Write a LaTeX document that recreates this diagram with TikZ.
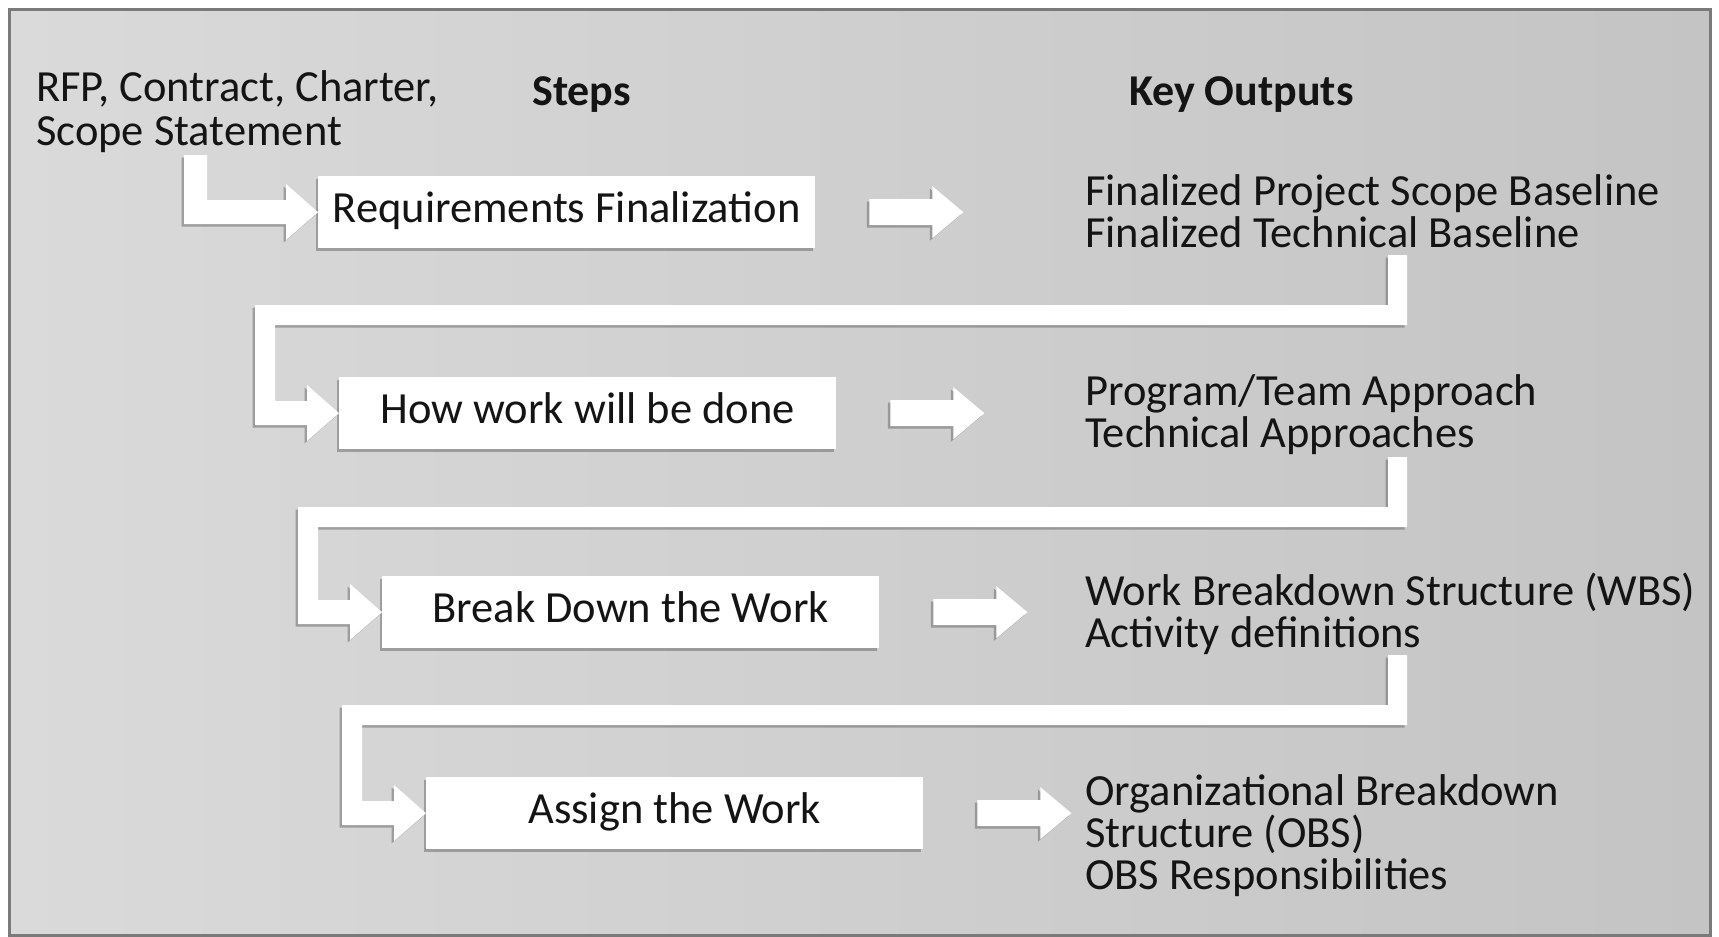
\documentclass[tikz,border=0pt]{standalone}
\usepackage{fontspec}
\setmainfont{Carlito}
\usetikzlibrary{shadows,calc}
\definecolor{frameline}{HTML}{7A7A7A}
\definecolor{bgleft}{HTML}{DADADA}
\definecolor{bgright}{HTML}{C4C4C4}
\definecolor{ink}{HTML}{141414}
\begin{document}
\begin{tikzpicture}[x=1pt,y=-1pt]
\tikzset{
  shdw/.style={drop shadow={shadow xshift=-2.5pt,shadow yshift=-2.5pt,opacity=0.45,fill=black!65}},
  boxst/.style={fill=white,shdw,minimum width=497pt,minimum height=72pt,inner sep=0pt,
    anchor=north west,text height=30pt,text depth=9pt,font=\fontsize{44.5}{52}\selectfont,text=ink},
  conn/.style={fill=white,shdw},
  txt/.style={anchor=base west,inner sep=0pt,font=\fontsize{44.5}{52}\selectfont,text=ink},
  hdr/.style={anchor=base west,inner sep=0pt,font=\fontsize{44}{52}\selectfont\bfseries,text=ink},
  rarr/.pic={\path[conn] (0,-13) -- (63,-13) -- (63,-26) -- (94,0) -- (63,26) -- (63,13) -- (0,13) -- cycle;}
}
\fill[white] (0,0) rectangle (1719,937);
\useasboundingbox (0,0) rectangle (1719,937);
\shade[left color=bgleft,right color=bgright] (9,9) rectangle (1710,935);
\draw[frameline,line width=3pt] (9,9) rectangle (1710,935);

% headers and input text (base anchor = last line)
\node[txt,align=left,font=\fontsize{44.5}{44}\selectfont] (inp) at (36,145) {RFP, Contract, Charter,\\Scope Statement};
\node[hdr] (steps) at (532,105) {Steps};
\node[hdr] (keyout) at (1129,105) {Key Outputs};

% step boxes
\node[boxst] (b1) at (318,176) {Requirements Finalization};
\node[boxst] (b2) at (339,377) {How work will be done};
\node[boxst] (b3) at (382,576) {Break Down the Work};
\node[boxst] (b4) at (426,777) {Assign the Work};

% outputs
\node[txt] (o1a) at (1085,205) {Finalized Project Scope Baseline};
\node[txt] (o1b) at (1085,247) {Finalized Technical Baseline};
\node[txt] (o2a) at (1085,405) {Program/Team Approach};
\node[txt] (o2b) at (1085,447) {Technical Approaches};
\node[txt] (o3a) at (1085,605) {Work Breakdown Structure (WBS)};
\node[txt] (o3b) at (1085,647) {Activity definitions};
\node[txt] (o4a) at (1085,805) {Organizational Breakdown};
\node[txt] (o4b) at (1085,847) {Structure (OBS)};
\node[txt] (o4c) at (1085,889) {OBS Responsibilities};

% right arrows from steps to outputs
\pic at ($(b1.east)+(54,0)$) {rarr};
\pic at ($(b2.east)+(54,0)$) {rarr};
\pic at ($(b3.east)+(54,0)$) {rarr};
\pic at ($(b4.east)+(54,0)$) {rarr};

% input connector
\path[conn] (b1.west) -- (286,184) -- (286,200) -- (207,200) -- (207,155) -- (184,155)
  -- (184,224) -- (286,224) -- (286,240) -- cycle;
% output 1 -> step 2
\path[conn] (b2.west) -- (307,385) -- (307,401) -- (275,401) -- (275,325) -- (1407,325)
  -- (1407,255) -- (1388,255) -- (1388,305) -- (255,305) -- (255,425) -- (307,425) -- (307,441) -- cycle;
% output 2 -> step 3
\path[conn] (b3.west) -- (350,584) -- (350,600) -- (318,600) -- (318,527) -- (1407,527)
  -- (1407,457) -- (1388,457) -- (1388,507) -- (298,507) -- (298,624) -- (350,624) -- (350,640) -- cycle;
% output 3 -> step 4
\path[conn] (b4.west) -- (394,785) -- (394,801) -- (362,801) -- (362,725) -- (1407,725)
  -- (1407,655) -- (1388,655) -- (1388,705) -- (342,705) -- (342,825) -- (394,825) -- (394,841) -- cycle;
\end{tikzpicture}
\end{document}
